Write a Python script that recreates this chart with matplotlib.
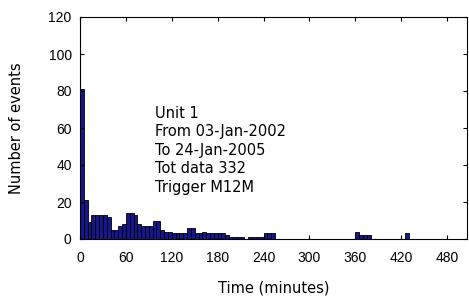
import numpy as np
import matplotlib.pyplot as plt

plt.rcParams['font.family'] = ['Liberation Sans', 'DejaVu Sans']

# histogram counts, 5-minute bins starting at 0
bin_width = 5
counts = [81, 21, 9, 13, 13, 13, 13, 12, 5, 5,
          7, 8, 14, 14, 13, 8, 7, 7, 7, 10,
          10, 5, 4, 4, 3, 3, 3, 3, 6, 6,
          3, 3, 4, 3, 3, 3, 3, 3, 2, 1,
          1, 1, 1, 0, 1, 1, 1, 1, 3, 3,
          3, 0, 0, 0, 0, 0, 0, 0, 0, 0,
          0, 0, 0, 0, 0, 0, 0, 0, 0, 0,
          0, 0, 4, 2, 2, 2, 0, 0, 0, 0,
          0, 0, 0, 0, 0, 3]
bin_left = np.arange(len(counts)) * bin_width

xticks = [0, 60, 120, 180, 240, 300, 360, 420, 480]
yticks = [0, 20, 40, 60, 80, 100, 120]
info = "Unit 1\nFrom 03-Jan-2002\nTo 24-Jan-2005\nTot data 332\nTrigger M12M"

fig = plt.figure(figsize=(4.69, 2.98), dpi=100)
ax = fig.add_axes([80/469, 1 - 239/298, 387/469, 222/298])

ax.bar(bin_left, counts, width=bin_width, align='edge',
       facecolor='#16168c', edgecolor='black', linewidth=0.6)

ax.set_xlim(0, 506)
ax.set_ylim(0, 120)
ax.set_xticks(xticks)
ax.set_yticks(yticks)
ax.tick_params(direction='in', top=True, right=True, labelsize=10, length=3)
ax.tick_params(axis='x', pad=9)
ax.tick_params(axis='y', pad=6)
for s in ax.spines.values():
    s.set_linewidth(0.8)

ax.set_xlabel('Time (minutes)', fontsize=10.5, family='DejaVu Sans')
ax.set_ylabel('Number of events', fontsize=10.5, family='DejaVu Sans')
ax.xaxis.set_label_coords(0.5, -0.185)
ax.yaxis.set_label_coords(-0.145, 0.5)

ax.text(0.194, 0.4, info, transform=ax.transAxes, fontsize=10.5,
        family='DejaVu Sans', linespacing=1.3, va='center', ha='left')

fig.savefig('out.png', dpi=100)
